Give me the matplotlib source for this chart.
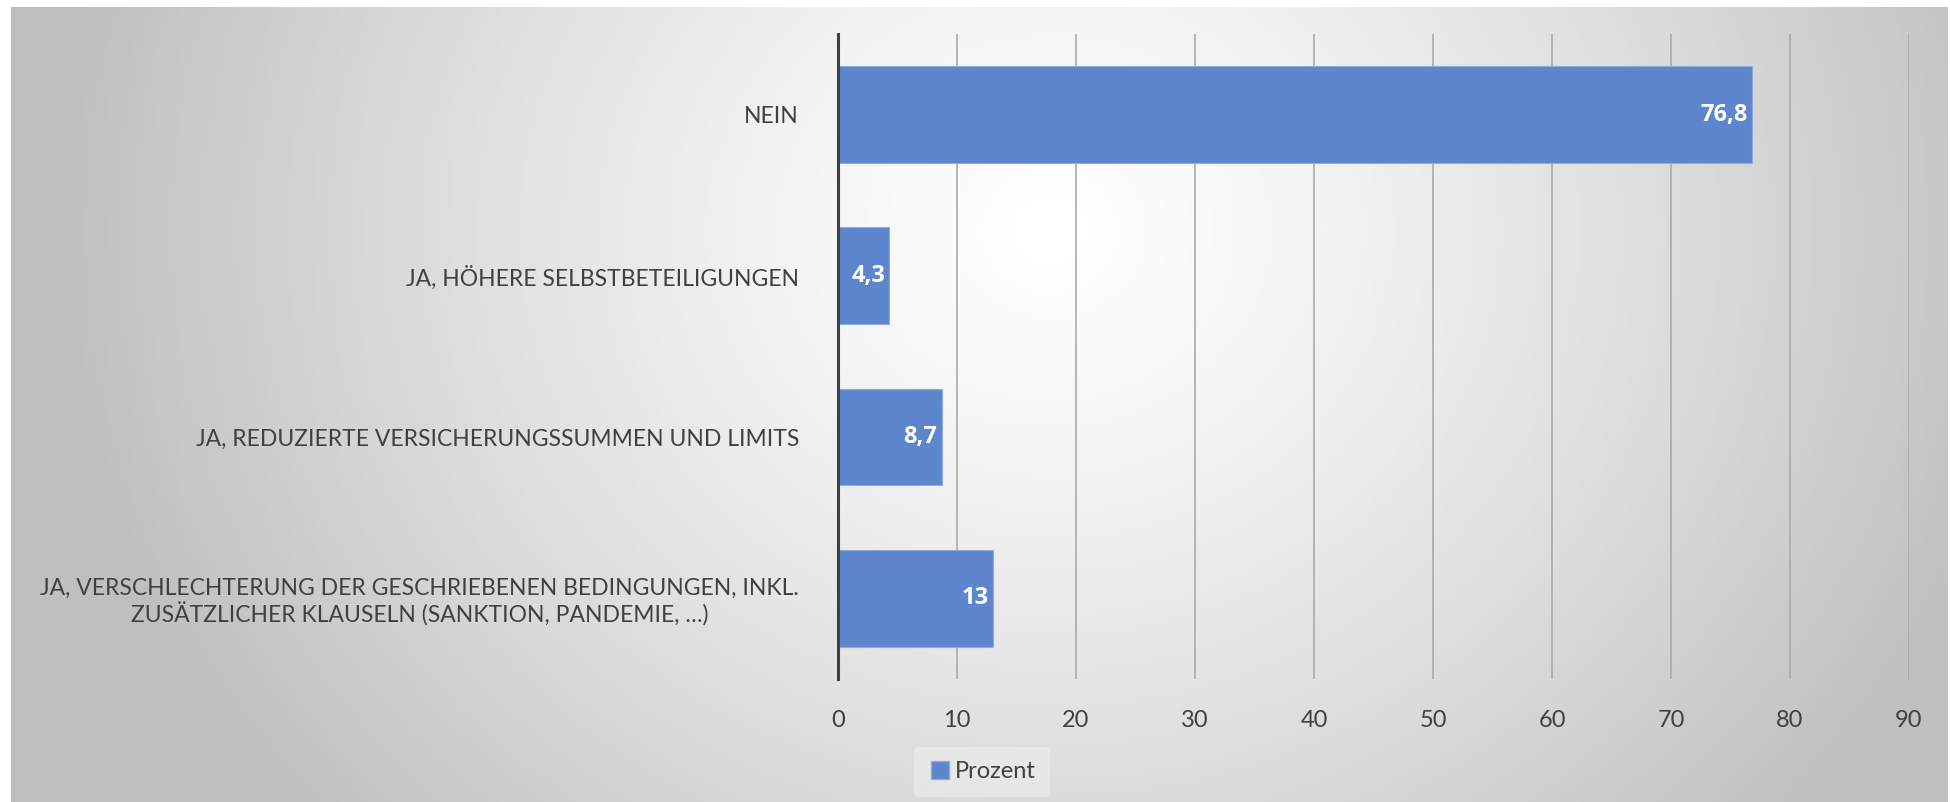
import numpy as np
import matplotlib.pyplot as plt
from matplotlib.lines import Line2D

# chart data (top to bottom as shown)
categories = [
    "NEIN",
    "JA, HÖHERE SELBSTBETEILIGUNGEN",
    "JA, REDUZIERTE VERSICHERUNGSSUMMEN UND LIMITS",
    "JA, VERSCHLECHTERUNG DER GESCHRIEBENEN BEDINGUNGEN, INKL.\nZUSÄTZLICHER KLAUSELN (SANKTION, PANDEMIE, …)",
]
values = [76.8, 4.3, 8.7, 13]
value_labels = ["76,8", "4,3", "8,7", "13"]
x_ticks = [0, 10, 20, 30, 40, 50, 60, 70, 80, 90]
series_name = "Prozent"

bar_color = "#5e86cc"
text_color = "#404040"

plt.rcParams['font.family'] = ['Lato', 'DejaVu Sans']

W, H = 1950, 802
fig = plt.figure(figsize=(W / 100, H / 100), dpi=100)

# radial gray gradient background
bg = fig.add_axes([11 / W, 0, (1948 - 11) / W, (H - 7) / H], zorder=-10)
gx, gy = np.meshgrid(np.linspace(11, 1948, 400), np.linspace(7, H, 200))
d = np.sqrt(((gx - 1050) / 1000) ** 2 + ((gy - 230) / 900) ** 2)
d = np.clip(d, 0, 1)
shade = 1.0 - 0.25 * d ** 1.3
bg.imshow(np.dstack([shade, shade, shade]), aspect='auto', extent=[0, 1, 0, 1])
bg.set_axis_off()

ax = fig.add_axes([838 / W, 123 / H, (1909 - 838) / W, (679 - 34) / H])
ax.patch.set_alpha(0)

y = np.arange(len(categories))
ax.barh(y, values, height=0.6, color=bar_color, edgecolor="#8eabe0",
        linewidth=0.8, zorder=3)

for yi, v, lab in zip(y, values, value_labels):
    ax.annotate(lab, xy=(v, yi), xytext=(-3, 0), textcoords='offset points',
                ha='right', va='center', color='white', fontsize=17,
                fontweight='bold', family=['Open Sans', 'DejaVu Sans'],
                zorder=4)

ax.set_xlim(0, 90)
ax.set_ylim(len(categories) - 0.5, -0.5)
ax.set_xticks(x_ticks)
ax.set_xticklabels([str(t) for t in x_ticks])
ax.set_yticks(y)
ax.set_yticklabels(categories, multialignment='center')
ax.tick_params(axis='x', length=0, pad=22, labelsize=17, colors=text_color)
ax.tick_params(axis='y', length=0, pad=28, labelsize=16.5, colors=text_color)

ax.grid(axis='x', color='#aaaaaa', linewidth=1.2, zorder=0)
ax.set_axisbelow(True)
for s in ['top', 'right', 'bottom']:
    ax.spines[s].set_visible(False)
ax.spines['left'].set_color('#404040')
ax.spines['left'].set_linewidth(2.2)
ax.spines['left'].set_zorder(5)

handle = Line2D([], [], marker='s', linestyle='none', markersize=13,
                markerfacecolor=bar_color, markeredgecolor="#8eabe0")
leg = fig.legend([handle], [series_name], loc='center',
                 bbox_to_anchor=(982 / W, 1 - 772 / H), frameon=True,
                 fontsize=17, handletextpad=0.1, borderpad=0.6,
                 handlelength=1.0)
leg.get_frame().set_facecolor('white')
leg.get_frame().set_alpha(0.3)
leg.get_frame().set_edgecolor('none')
for t in leg.get_texts():
    t.set_color(text_color)

fig.savefig("out.png", dpi=100, facecolor='white')
